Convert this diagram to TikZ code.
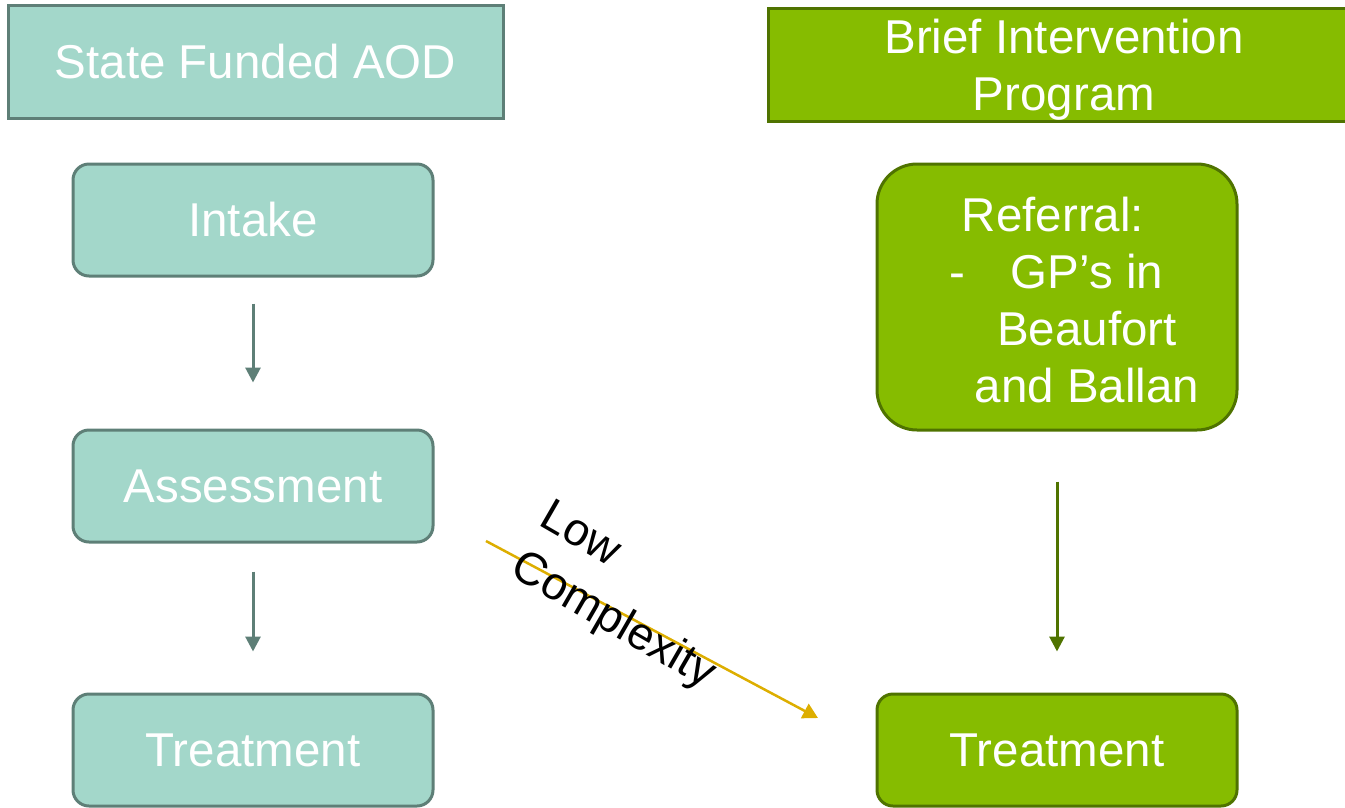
\documentclass[tikz,border=0pt]{standalone}
\usepackage{fontspec}
\setmainfont{Liberation Sans}
\usetikzlibrary{arrows.meta}
\definecolor{tealfill}{HTML}{A3D7CA}
\definecolor{tealline}{HTML}{5E7F77}
\definecolor{greenfill}{HTML}{86BC00}
\definecolor{greenline}{HTML}{4F7300}
\definecolor{goldline}{HTML}{DDAE00}
\tikzset{
  base/.style={inner sep=0pt, text=white, align=center, line width=3pt,
    font=\fontsize{47.5}{57}\selectfont},
  tealhead/.style={base, draw=tealline, fill=tealfill},
  greenhead/.style={base, draw=greenline, fill=greenfill},
  tealbox/.style={base, draw=tealline, fill=tealfill, rounded corners=16pt,
    minimum width=360pt, minimum height=112pt},
  greenbox/.style={base, draw=greenline, fill=greenfill, rounded corners=16pt,
    minimum width=360pt, minimum height=112pt},
  tealarrow/.style={draw=tealline, line width=3pt, -{Triangle[length=15pt,width=15pt]}},
  greenarrow/.style={draw=greenline, line width=3pt, -{Triangle[length=15pt,width=15pt]}},
  goldarrow/.style={draw=goldline, line width=2.5pt, -{Triangle[length=15pt,width=16pt]}},
}
\begin{document}
\begin{tikzpicture}[x=1pt,y=-1pt]
\useasboundingbox (0,0) rectangle (1345,807);
% left column
\node[tealhead, minimum width=495pt, minimum height=113pt] (lhead) at (255.5,61.5) {State Funded AOD};
\node[tealbox] (intake) at (253,220) {Intake};
\node[tealbox] (assess) at (253,486) {Assessment};
\node[tealbox] (ltreat) at (253,750) {Treatment};
% right column
\node[greenhead, minimum width=584pt, minimum height=113pt] (rhead) at (1060,64.5) {};
\node[base] (rheadtext) at (1064,70) {Brief Intervention\\Program};
\node[greenbox, rounded corners=40pt, minimum height=266pt] (referral) at (1057,297) {};
\node[base] (referraltext) at (1087,300)
  {Referral:\hspace*{68pt}\\\llap{-\hspace*{46pt}}GP’s in\\Beaufort\\and Ballan};
\node[greenbox] (rtreat) at (1057,750) {Treatment};
% connectors
\draw[tealarrow, shorten <=26pt, shorten >=46pt] (intake.south) -- (assess.north);
\draw[tealarrow, shorten <=28pt, shorten >=41pt] (assess.south) -- (ltreat.north);
\draw[greenarrow, shorten <=50pt, shorten >=41pt] (referral.south) -- (rtreat.north);
\coordinate (lcstart) at (486,541);
\coordinate (lcend) at (818,718);
\draw[goldarrow] (lcstart) -- (lcend);
\node[inner sep=0pt, align=left, rotate=-30, text=black,
  font=\fontsize{46}{58}\selectfont] (lowc) at (627,597) {Low\\Complexity};
\end{tikzpicture}
\end{document}
